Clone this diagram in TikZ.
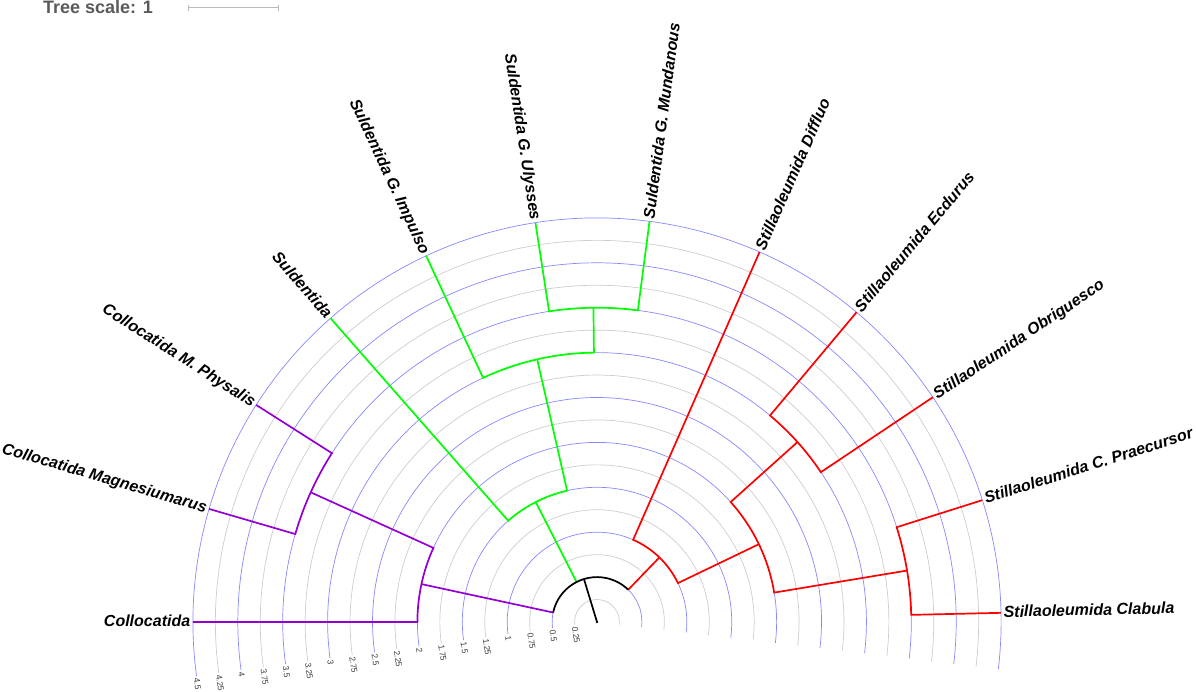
\documentclass[tikz,border=0pt]{standalone}
\usepackage{fontspec}
\setmainfont{Liberation Sans}
\definecolor{ringblue}{RGB}{135,135,255}
\definecolor{ringgray}{RGB}{205,205,205}
\definecolor{purp}{RGB}{148,0,211}
\definecolor{grn}{RGB}{0,255,0}
\definecolor{rd}{RGB}{255,0,0}
\definecolor{scalegray}{RGB}{90,90,90}
\definecolor{scalebarc}{RGB}{185,185,185}
\def\U{89.8pt}
\begin{document}
\begin{tikzpicture}[x=1pt,y=1pt,
  br/.style={line width=1.7pt, line join=miter},
  brP/.style={br, draw=purp},
  brG/.style={br, draw=grn},
  brR/.style={br, draw=rd},
  brK/.style={br, draw=black},
  leafbase/.style={font=\fontsize{16}{19}\selectfont\bfseries\itshape, inner sep=2.5pt, text height=11.5pt, text depth=2.3pt},
  leafL/.style={leafbase, anchor=east},
  leafR/.style={leafbase, anchor=west},
  axl/.style={font=\fontsize{8.5}{9.5}\selectfont, text=black!75, inner sep=1.5pt, text height=6.1pt, text depth=0pt, anchor=west, rotate=-82.3},
  scalebar/.style={draw=scalebarc, line width=1pt},
]
\useasboundingbox (0,0) rectangle (1196,692);

% tree scale
\node[font=\fontsize{18}{21}\selectfont\bfseries, text=scalegray, inner sep=0, anchor=base west] (ts) at (43,678) {Tree scale: 1};
\coordinate (sb1) at (188.5,684);
\coordinate (sb2) at (278.5,684);
\draw[scalebar] (sb1) -- (sb2);
\draw[scalebar] ([yshift=-3pt]sb1) -- ([yshift=3pt]sb1);
\draw[scalebar] ([yshift=-3pt]sb2) -- ([yshift=3pt]sb2);

\begin{scope}[shift={(597pt,70pt)}]
% rings
\foreach \i in {1,...,18} {
  \pgfmathsetmacro\rr{\i*0.25*89.8}
  \ifodd\i \colorlet{rc}{ringgray}\else \colorlet{rc}{ringblue}\fi
  \draw[draw=rc, line width=0.7pt] (-6.7:\rr pt) arc[start angle=-6.7, end angle=187.7, radius=\rr pt];
}
% axis labels
\foreach \i/\t in {1/0.25,2/0.5,3/0.75,4/1,5/1.25,6/1.5,7/1.75,8/2,9/2.25,10/2.5,11/2.75,12/3,13/3.25,14/3.5,15/3.75,16/4,17/4.25,18/4.5} {
  \node[axl] (ax\i) at (187.7:\i*0.25*\U) {\t};
}

% coordinates
\coordinate (root) at (0,0);
\coordinate (rootT) at (106.9:0.5*\U);
% purple
\coordinate (P1b) at (167.82:0.5*\U);
\coordinate (P1) at (167.82:2*\U);
\coordinate (P2) at (155.63:3.5*\U);
\coordinate (L1b) at (180:2*\U);
\coordinate (L1) at (180:4.5*\U);
\coordinate (L2b) at (163.75:3.5*\U);
\coordinate (L2) at (163.75:4.5*\U);
\coordinate (L3) at (147.51:4.5*\U);
% green
\coordinate (G1b) at (117.05:0.5*\U);
\coordinate (G1) at (117.05:1.5*\U);
\coordinate (L4b) at (131.26:1.5*\U);
\coordinate (L4) at (131.26:4.5*\U);
\coordinate (G2) at (102.83:3*\U);
\coordinate (L5b) at (115.02:3*\U);
\coordinate (L5) at (115.02:4.5*\U);
\coordinate (G3) at (90.65:3.5*\U);
\coordinate (L6b) at (98.77:3.5*\U);
\coordinate (L6) at (98.77:4.5*\U);
\coordinate (L7) at (82.53:4.5*\U);
% red
\coordinate (R1b) at (45.97:0.5*\U);
\coordinate (R1) at (45.97:1*\U);
\coordinate (L8b) at (66.28:1*\U);
\coordinate (L8) at (66.28:4.5*\U);
\coordinate (R2) at (25.67:2*\U);
\coordinate (R3) at (41.91:3*\U);
\coordinate (R3b) at (41.91:2*\U);
\coordinate (R4) at (9.42:3.5*\U);
\coordinate (L9b) at (50.04:3*\U);
\coordinate (L9) at (50.04:4.5*\U);
\coordinate (L10) at (33.79:4.5*\U);
\coordinate (L11b) at (17.55:3.5*\U);
\coordinate (L11) at (17.55:4.5*\U);
\coordinate (L12) at (1.3:4.5*\U);

% purple clade
\draw[brP] (P1b) -- (P1);
\draw[brP] (L1) -- (L1b) arc[start angle=180, end angle=155.63, radius=2*\U] -- (P2);
\draw[brP] (L2) -- (L2b) arc[start angle=163.75, end angle=147.51, radius=3.5*\U] -- (L3);
% green clade
\draw[brG] (G1b) -- (G1);
\draw[brG] (L4) -- (L4b) arc[start angle=131.26, end angle=102.83, radius=1.5*\U] -- (G2);
\draw[brG] (L5) -- (L5b) arc[start angle=115.02, end angle=90.65, radius=3*\U] -- (G3);
\draw[brG] (L6) -- (L6b) arc[start angle=98.77, end angle=82.53, radius=3.5*\U] -- (L7);
% red clade
\draw[brR] (R1b) -- (R1);
\draw[brR] (L8) -- (L8b) arc[start angle=66.28, end angle=25.67, radius=1*\U] -- (R2);
\draw[brR] (R3) -- (R3b) arc[start angle=41.91, end angle=9.42, radius=2*\U] -- (R4);
\draw[brR] (L9) -- (L9b) arc[start angle=50.04, end angle=33.79, radius=3*\U] -- (L10);
\draw[brR] (L11) -- (L11b) arc[start angle=17.55, end angle=1.3, radius=3.5*\U] -- (L12);
% root
\draw[brK] (P1b) arc[start angle=167.82, end angle=45.97, radius=0.5*\U];
\draw[brK] (root) -- (rootT);
\fill (root) circle (1.3pt);

% leaf labels
\node[leafL] (t1) at (L1) {Collocatida};
\node[leafL, rotate=-16.25] (t2) at (L2) {Collocatida Magnesiumarus};
\node[leafL, rotate=-32.49] (t3) at (L3) {Collocatida M. Physalis};
\node[leafL, rotate=-48.74] (t4) at (L4) {Suldentida};
\node[leafL, rotate=-64.98] (t5) at (L5) {Suldentida G. Impulso};
\node[leafL, rotate=-81.23] (t6) at (L6) {Suldentida G. Ulysses};
\node[leafR, rotate=82.53] (t7) at (L7) {Suldentida G. Mundanous};
\node[leafR, rotate=66.28] (t8) at (L8) {Stillaoleumida Diffluo};
\node[leafR, rotate=50.04] (t9) at (L9) {Stillaoleumida Ecdurus};
\node[leafR, rotate=33.79] (t10) at (L10) {Stillaoleumida Obriguesco};
\node[leafR, rotate=17.55] (t11) at (L11) {Stillaoleumida C. Praecursor};
\node[leafR, rotate=1.3] (t12) at (L12) {Stillaoleumida Clabula};
\end{scope}
\end{tikzpicture}
\end{document}
